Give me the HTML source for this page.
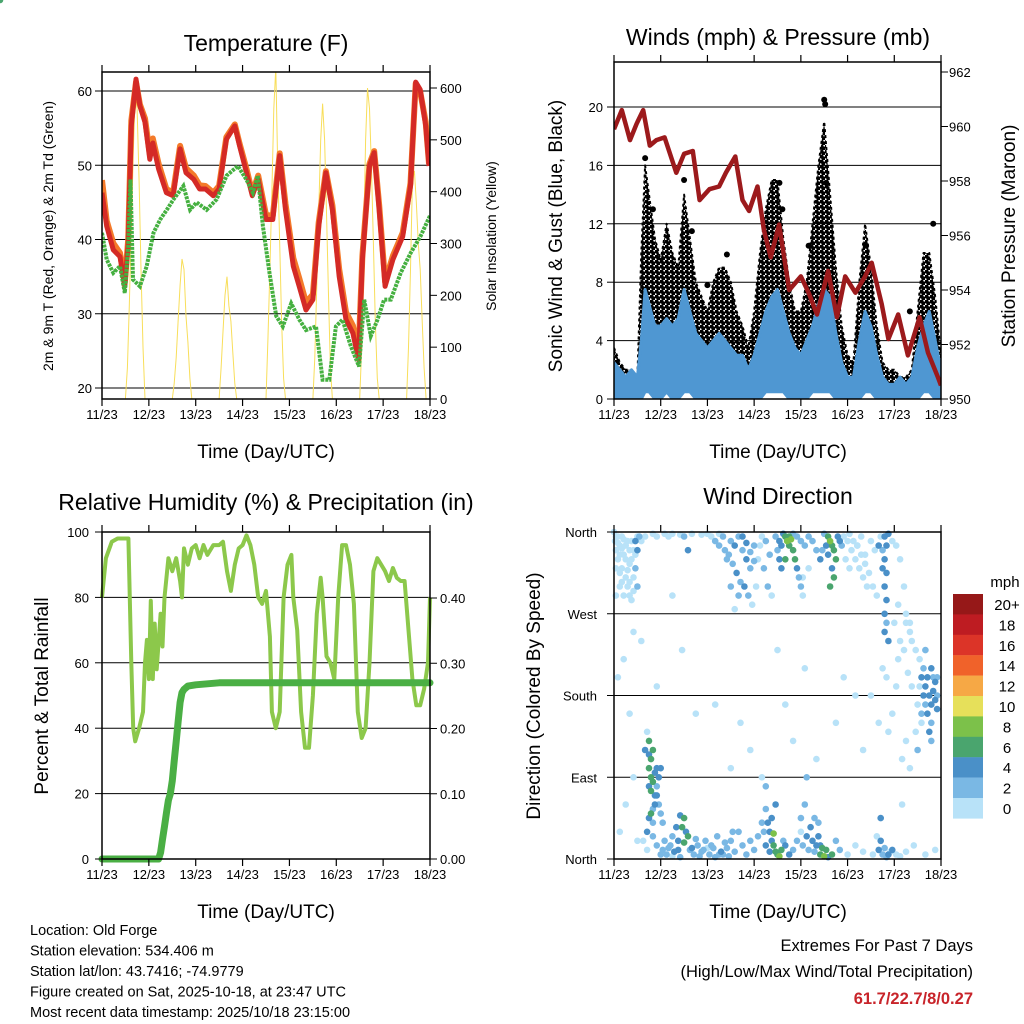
<!DOCTYPE html>
<html><head><meta charset="utf-8">
<style>
body{margin:0;background:#fff;}
svg{display:block;font-family:"Liberation Sans",sans-serif;}
</style></head>
<body>
<svg id="c" width="1024" height="1024" viewBox="0 0 1024 1024">
<defs>
<pattern id="dots" width="5" height="5" patternUnits="userSpaceOnUse">
<circle cx="1.2" cy="1.2" r="2.3" fill="#000"/><circle cx="3.7" cy="3.7" r="2.3" fill="#000"/>
</pattern>
</defs>
<rect width="1024" height="1024" fill="#fff"/>
</svg>
<script>
// ===== Temperature panel data (hours since 11/23 00Z) =====
const tHours=[0,2.4,5.8,9.2,11.7,13.4,15,17.4,19.4,22,24.5,26,29,33,36.4,40,43,47,50,53,57,60,63.7,68,70.5,74,77,80,84,87.5,91,94,98,101,104.5,108,111,114.7,118,121.5,125,128.5,131.4,133.4,137,139.4,142,145,149,154,158,160.7,163,165.8,167.5];
const tRed=[46.3,41.8,38.6,37.7,33.7,39.5,55.3,61.6,58,55.8,50.8,53,49.5,46.3,45.9,52.2,49,48.1,46.8,46.8,45.9,46.8,53.5,55.3,52.6,49,45.9,48.1,42.7,42.7,51.3,44,36.4,33.7,30.5,31.9,41.8,49,44,35,29.2,27.4,23.8,37.3,49.9,51.7,44,33.7,37.3,40.4,47.2,61.2,60.2,55.3,49.9];
const tOrange=[48,42.5,39.5,38.2,34.2,40,56,61.2,58.2,56.3,51.5,53.6,50.2,46.8,46.3,52.6,49.6,48.6,47.3,47.2,46.3,47.2,53.8,55.5,52.9,49.5,46.3,48.6,43.3,43.2,51.6,44.8,37.5,34.8,31.5,32.6,42.3,49.2,44.6,36,30.2,28.4,24.6,37.8,50.2,51.9,44.6,34.3,37.8,40.9,47.6,61,59.9,55.8,50.2];
const dHours=[0,2.4,5.8,9.2,11.7,13.4,14.6,15.9,19.4,22.9,26.4,29.8,33.2,36.6,41.7,45.1,48.5,53.6,58.7,63.8,69.6,73.9,77.3,79.8,82.4,85.8,89.2,92.6,96.9,101.1,104.5,109.6,113,116.4,119.8,123.2,127.5,131.7,134.3,137.7,141.1,144.5,147.9,153,158.1,163.1,168];
const tDew=[40.9,37.3,35.5,36.4,32.8,39.1,48.1,34.6,33.7,36.4,40.9,42.7,44,45.4,47.2,44,45,44,45.4,48.6,49.9,48.1,46.3,48.6,41.8,35.5,29.7,28.3,31.4,29.2,27.8,28.3,21.1,21.1,28.3,29.2,25.6,22.9,31.9,27,29.2,31.9,31.9,35.5,38.2,40.4,43.2];
const sHours=[0,12,13,14,15,16,17,18,19,20,21,22,36,37,38,39,40,41,42,43,44,45,46,60,61,62,63,64,65,66,67,68,69,84,85,86,87,88,89,90,91,92,93,94,108,109,110,111,112,113,114,115,116,117,118,132,133,134,135,136,137,138,139,140,141,142,156,157,158,159,160,161,162,163,164,165,166,168];
const solar=[0,0,60,180,330,470,590,560,420,250,100,0,0,30,80,150,220,270,250,160,110,40,0,0,60,130,200,236,180,150,90,30,0,0,120,250,400,560,640,450,300,150,40,0,0,80,220,360,500,570,500,360,200,60,0,0,100,300,500,600,560,450,300,150,40,0,0,100,250,420,440,380,300,250,150,60,0,0];
const tTicks=[20,30,40,50,60];
const sTicks=[0,100,200,300,400,500,600];
const dayLabels=["11/23","12/23","13/23","14/23","15/23","16/23","17/23","18/23"];
// ===== Wind panel data =====
const pHours=[0,4,8.2,11.6,15,18.4,21.8,26,32,36,40.5,44,49,54,57.5,62.3,66,69.4,73.7,77,80.5,84.8,90,96,100,104.3,110,114.5,118.8,124,129,132.4,137.5,141,146,151,157,161.3,166.4,168];
const pressure=[959.9,960.6,959.5,960.1,960.6,959.3,959.5,959.6,958.3,959,959.1,957.3,957.7,957.8,958.3,958.9,957.3,956.9,957.8,956.2,955.2,956.4,954,954.5,953.9,953.1,954.7,953,954.5,953.9,954.5,955,953.5,952.2,953.1,951.6,953,951.7,950.8,950.5];
const wHours=[0,3,6,9,12,14,16,18,21,24,27,30,33,36,39,42,45,48,51,54,57,60,63,66,69,72,75,78,81,84,87,90,93,96,99,102,105,108,111,114,117,120,123,126,129,132,135,138,141,144,147,150,153,156,159,162,165,168];
const windLow=[0,0,0,0,0,0,0.5,0.5,0,0,0.5,0,0,0.5,0.5,0,0,0,0,0,0,0,0,0,0,0,0,0.5,0.5,0.5,0.5,0,0,0,0,0.5,0.5,0.5,0.5,0,0,0,0,0,0.5,0.5,0,0,0,0,0,0,0,0,0.5,0.5,0,0];
const windHigh=[2.5,2,1.5,2,1.5,4,7.5,6.5,5,5,5.5,5,5.5,7.5,6,4.5,4,3.5,4,4.5,4,3.5,3,3,2,3,4.5,6,7,7.5,6,4.5,3.5,3,4,5,6.5,7.5,7,4.5,2.5,1.5,1.5,4,6,5,3,1.5,1,1,1.5,1,1.5,3.5,5,6,4,2];
const gustHigh=[3.5,2.5,2,2,1.5,10,16,14,11,9.5,12,10,9,14,11,8,7,6,8,9,9,8,6,5,3.5,6,10,13,15,15,11,8,6,6,8,12,16,19,14,9,5,3,2.5,8,12,9,5,2.5,2,2,1.5,1.5,2,6,10,10,7,3];
const gustOutHours=[16,36,85,86.5,108,108.5,109,129.5,164,58,48,20,40,100,152];
const gustOutVals=[16.5,15,14.8,13,20.5,20.2,14.8,10.5,12,9.9,7.8,13,11.5,10.5,6];
const wTicks=[0,4,8,12,16,20];
const pTicks=[950,952,954,956,958,960,962];
// ===== RH / precip data =====
const rhHours=[0,2,5,8,12,13.5,15,16,17,19,21,22,23,24,25,26,27,28,30,31,32,34,36,38,40,41,42,44,46,48,50,52,54,57,60,62,64,66,68,70,72,74,76,78,80,82,84,86,87,89,91,93,95,97,98,100,102,104,106,108,110,112,113,115,117,119,121,123,125,127,129,131,133,135,137,139,141,143,145,147,149,151,153,155,157,159,161,163,165,167,168];
const rh=[80,92,97,98,98,98,60,40,36,40,45,60,67,55,79,55,72,58,75,65,80,92,88,92,85,80,95,90,95,96,92,96,93,96,96,97,88,82,90,95,96,99,96,90,80,78,82,68,45,40,45,80,90,93,80,70,45,34,34,50,75,86,80,62,60,55,80,96,96,90,78,45,37,40,60,88,92,90,88,85,89,86,85,85,70,55,47,47,52,60,80];
const prHours=[0,29,30,31,32,33,34,35,36,37,38,39,40,41,42,44,48,60,168];
const precip=[0,0,0.01,0.03,0.05,0.07,0.09,0.1,0.12,0.15,0.18,0.21,0.24,0.255,0.26,0.265,0.267,0.27,0.27];
const rhTicks=[0,20,40,60,80,100];
const prTicks=["0.00","0.10","0.20","0.30","0.40"];
// ===== Wind direction data =====
const dirHoursA=[0.5,1,2,3,4,5,6,7,8,9,10,11,12,3,1,5,7,13,2,4,8,9,11,12,
60,62,64,66,68,70,72,58,60,67,69,71,74,76,78,80,56,54,50,48,45,40,38,
88,89,90,91,92,93,87,86,94,95,96,97,85,84,
110,111,112,113,114,112,113,111,110,109,115,116,108,107,
120,122,124,126,128,130,121,125,119,127,129,132,134,
139,140,139,140,139,140,139,140,139,141,138,
158,160,162,163,164,165,161,163,162,164,159,157,155,153,160,166,166,150,152,156,158,155,150,148,152,
18,18,19,18,19,20,18,19,21,22,23,22,21,19,18,20,23,24,25,
25,27,29,31,33,35,36,37,38,39,41,43,45,47,49,51,53,55,57,59,61,30,34,44,48,52,56,
79,80,81,82,83,84,85,86,82,78,78,
100,102,104,106,107,108,109,110,98,99,103,96,105,
136,137,137,138,140,142,145,
2,5,8,10,14,22,30,35,42,52,60,65,70,76,84,88,92,98,104,114,118,124,128,132,136,138,144,146,148,3,6,10,12];
const dirDegsA=[350,340,330,345,320,335,310,300,325,350,340,350,340,300,290,290,350,355,355,355,305,285,320,300,
350,345,355,340,330,320,345,330,300,300,290,280,330,355,350,335,355,358,355,358,357,358,340,
355,350,345,352,340,330,358,345,320,310,300,290,330,340,
355,350,345,340,330,320,310,300,335,345,355,350,358,340,
350,340,330,320,310,300,320,345,330,355,335,350,340,
355,345,330,315,300,285,270,260,250,240,340,
200,190,180,170,185,175,160,150,140,200,210,220,230,240,230,180,200,260,250,170,150,140,130,110,100,
130,115,110,100,90,85,80,75,70,100,90,80,60,50,45,40,60,50,40,
10,5,15,8,20,35,45,30,25,10,5,15,8,20,5,12,25,8,18,3,30,3,2,3,12,2,5,
40,30,20,15,8,5,3,10,28,55,80,
10,20,15,5,12,3,10,2,60,90,45,30,40,
10,20,45,5,2,8,5,
200,220,160,250,240,190,290,230,160,170,100,150,120,90,230,170,130,210,110,150,200,180,120,180,150,210,260,220,60,30,60,90,20];
const dirSpeedsA=[1,1,1,1,1,1,1,1,1,1,1,4,4,1,1,1,1,2,1,1,1,1,2,2,
3,4,2,3,4,3,2,2,2,4,2,1,1,1,2,2,2,1,1,1,1,1,4,
6,8,6,8,6,6,4,4,4,2,2,1,4,3,
6,8,6,6,6,4,6,6,4,4,4,4,3,3,
1,1,1,1,1,1,1,1,1,1,1,1,1,
4,4,4,4,4,4,4,3,4,4,3,
4,4,4,4,4,4,4,3,4,3,2,1,1,1,2,3,2,1,1,1,1,1,1,1,1,
6,4,6,6,6,6,4,6,4,4,4,3,4,6,4,3,3,2,2,
2,3,3,4,4,6,6,4,6,3,2,2,2,2,2,3,2,4,2,2,2,1,2,2,1,2,2,
4,4,4,6,6,6,8,6,8,2,2,
2,4,4,6,6,8,6,4,2,2,2,1,3,
4,4,4,3,2,1,1,
1,1,1,1,1,1,1,1,1,1,1,1,1,1,1,1,1,1,1,1,1,1,1,1,1,1,1,1,1,1,1,1,1];
const dirHoursB=[0,1,2,3,4,5,6,7,8,9,10,11,12,6,4,10,1,3,8,14,16,20,22,26,28,30,34,36,
52,54,57,59,61,63,65,66,68,70,72,73,64,62,75,77,79,81,83,85,86,88,90,92,94,96,98,100,102,104,106,100,97,118,117,121,123,125,127,129,131,133,135,137,136,138,141,143,145,147,149,146,150,152,
15,17,20,22,24,26,28,30,32,33,34,36,40,42,46,50,54,58,60,62,64,66,68,70,72,74,76,77,78,80,81,83,87,88,90,92,94,96,97,99,101,103,105,106,112,114,116,120,124,128,133,135,139,141,143,147,150,154,160,165,
157,159,161,163,165,166,160,158,163,156,153,151,149,147,145,143,141,140,17,16,20,21,22,24,20,17];
const dirDegsB=[360,355,348,335,342,352,330,318,340,330,310,335,355,345,305,295,320,315,290,350,355,358,355,358,355,358,357,355,
350,345,340,335,325,315,305,355,348,338,328,300,290,275,345,320,300,290,355,350,320,330,355,358,355,350,345,355,350,340,330,320,310,355,345,358,350,345,335,325,315,300,290,355,345,320,358,350,345,330,300,280,270,260,
20,10,25,15,5,20,12,25,35,10,48,18,12,22,10,15,5,12,20,8,30,15,5,20,10,25,40,30,15,8,45,60,20,15,5,10,20,45,15,25,35,8,25,15,5,20,10,5,15,8,5,25,12,5,10,3,8,15,5,10,
190,180,200,210,195,165,170,160,130,120,190,205,230,240,190,160,140,200,140,120,120,95,70,100,55,30];
const dirSpeedsB=[1,1,1,1,1,1,1,1,1,1,1,1,1,1,1,1,1,1,1,1,1,1,1,1,1,1,1,2,
2,2,2,3,3,4,3,4,4,2,2,1,2,1,1,2,2,1,2,4,4,6,6,2,2,2,2,2,2,2,4,1,1,1,2,1,1,1,1,1,1,1,1,1,4,4,4,1,1,1,1,1,1,1,1,
1,2,2,3,2,2,3,4,4,4,6,4,3,2,2,2,3,2,2,2,2,2,2,2,2,2,3,4,4,4,4,3,4,4,3,2,2,3,4,4,2,4,4,6,2,2,1,1,1,1,1,3,4,4,1,1,1,1,1,1,
4,4,4,4,4,3,3,2,3,1,1,1,1,1,1,1,1,1,4,6,4,4,4,2,4,6];
const dirHours=dirHoursA.concat(dirHoursB);
const dirDegs=dirDegsA.concat(dirDegsB);
const dirSpeeds=dirSpeedsA.concat(dirSpeedsB);
const legendLabels=["20+","18","16","14","12","10","8","6","4","2","0"];
const legendColors=["#961818","#be1c22","#dc3428","#f0622a","#f6a845","#e6e05a","#7cc14a","#4aa56e","#4a90c8","#7ab8e4","#b8e2f8"];
const dirLabels=["North","East","South","West","North"];

const NS="http://www.w3.org/2000/svg";
const svg=document.getElementById('c');
function el(tag,attrs,parent){const e=document.createElementNS(NS,tag);for(const k in attrs)e.setAttribute(k,attrs[k]);(parent||svg).appendChild(e);return e;}
function txt(s,x,y,size,anchor,parent,extra){const t=el('text',Object.assign({x:x,y:y,'font-size':size,'text-anchor':anchor||'middle',fill:'#000'},extra||{}),parent);t.textContent=s;return t;}
function lin(d0,d1,r0,r1){return v=>r0+(v-d0)/(d1-d0)*(r1-r0);}
function pathFrom(xs,ys,fx,fy){let d='';for(let i=0;i<xs.length;i++)d+=(i?'L':'M')+fx(xs[i]).toFixed(1)+','+fy(ys[i]).toFixed(1);return d;}

function frame(g,L,T,R,B,name){
  const r=el('rect',{x:L,y:T,width:R-L,height:B-T,fill:'none',stroke:'#000','stroke-width':1.5},g);
  
  
}
function xAxis(g,L,R,T,B,fx){
  for(let i=0;i<dayLabels.length;i++){
    const x=fx(i*24);
    el('line',{x1:x,y1:B,x2:x,y2:B+7,stroke:'#000','stroke-width':1.2},g);
    el('line',{x1:x,y1:T,x2:x,y2:T-7,stroke:'#000','stroke-width':1.2},g);
    const t=txt(dayLabels[i],x,B+20,13,'middle',g);
    
    
  }
}

// ---------- Panel 1: Temperature ----------
(function(){
  const g=el('g',{});
  
  
  const L=102,R=430,T=72,B=399;
  const fx=lin(0,168,L,R), fy=lin(20,60,388,91), fs=lin(0,600,399,88);
  const clip=el('clipPath',{id:'cp1'},g);el('rect',{x:L,y:T,width:R-L,height:B-T},clip);
  for(const v of tTicks){const gl=el('line',{x1:L,y1:fy(v),x2:R,y2:fy(v),stroke:'#000','stroke-width':1},g);}
  const pg=el('g',{'clip-path':'url(#cp1)'},g);
  const s=el('path',{d:pathFrom(sHours,solar,fx,fs),fill:'none',stroke:'#f8de5a','stroke-width':1},pg);
  
  
  const o=el('path',{d:pathFrom(tHours,tOrange,fx,fy),fill:'none',stroke:'#f47a2a','stroke-width':6,'stroke-linejoin':'round'},pg);
  
  
  const r=el('path',{d:pathFrom(tHours,tRed,fx,fy),fill:'none',stroke:'#d42a26','stroke-width':5,'stroke-linejoin':'round'},pg);
  
  
  const gr=el('path',{d:pathFrom(dHours,tDew,fx,fy),fill:'none',stroke:'#45b040','stroke-width':4,'stroke-dasharray':'3 1'},pg);
  
  
  frame(g,L,T,R,B,'temperature-plot-frame');
  for(const v of tTicks){el('line',{x1:L,y1:fy(v),x2:L-7,y2:fy(v),stroke:'#000'},g);const t=txt(String(v),L-10,fy(v)+5,13,'end',g);}
  for(const v of sTicks){el('line',{x1:R,y1:fs(v),x2:R+7,y2:fs(v),stroke:'#000'},g);const t=txt(String(v),R+10,fs(v)+5,13,'start',g);}
  xAxis(g,L,R,T,B,fx);
  const ti=txt('Temperature (F)',266,51,23,'middle',g);
  const xl=txt('Time (Day/UTC)',266,458,19,'middle',g);
  const yl=txt('2m & 9m T (Red, Orange) & 2m Td (Green)',0,0,14,'middle',g,{transform:'translate(53,236) rotate(-90)'});
  const yr=txt('Solar Insolation (Yellow)',0,0,14,'middle',g,{transform:'translate(496,236) rotate(-90)'});
})();

// ---------- Panel 2: Winds ----------
(function(){
  const g=el('g',{});
  
  
  const L=614,R=941,T=62,B=399;
  const fx=lin(0,168,L,R), fy=lin(0,20,399,107), fp=lin(950,962,399,72);
  const clip=el('clipPath',{id:'cp2'},g);el('rect',{x:L,y:T,width:R-L,height:B-T},clip);
  for(const v of wTicks.slice(1)){const gl=el('line',{x1:L,y1:fy(v),x2:R,y2:fy(v),stroke:'#000','stroke-width':1},g);}
  const pg=el('g',{'clip-path':'url(#cp2)'},g);
  let d='';for(let i=0;i<wHours.length;i++)d+=(i?'L':'M')+fx(wHours[i]).toFixed(1)+','+fy(gustHigh[i]).toFixed(1);
  for(let i=wHours.length-1;i>=0;i--)d+='L'+fx(wHours[i]).toFixed(1)+','+fy(windLow[i]).toFixed(1);
  const gp=el('path',{d:d+'Z',fill:'url(#dots)',stroke:'#000','stroke-width':2,'stroke-dasharray':'3 3','stroke-linejoin':'round'},pg);
  
  
  for(let i=0;i<gustOutHours.length;i++){
    const c=el('circle',{cx:fx(gustOutHours[i]),cy:fy(gustOutVals[i]),r:3,fill:'#000'},pg);
    
    
  }
  let d2='';for(let i=0;i<wHours.length;i++)d2+=(i?'L':'M')+fx(wHours[i]).toFixed(1)+','+fy(windHigh[i]).toFixed(1);
  for(let i=wHours.length-1;i>=0;i--)d2+='L'+fx(wHours[i]).toFixed(1)+','+fy(windLow[i]).toFixed(1);
  const bp=el('path',{d:d2+'Z',fill:'#4f97d2',stroke:'#4f97d2','stroke-width':3,'stroke-linejoin':'round'},pg);
  
  
  const pl=el('path',{d:pathFrom(pHours,pressure,fx,fp),fill:'none',stroke:'#9c1a1c','stroke-width':4.5,'stroke-linejoin':'round'},pg);
  
  
  frame(g,L,T,R,B,'winds-plot-frame');
  for(const v of wTicks){el('line',{x1:L,y1:fy(v),x2:L-7,y2:fy(v),stroke:'#000'},g);const t=txt(String(v),L-11,fy(v)+5,13,'end',g);}
  for(const v of pTicks){el('line',{x1:R,y1:fp(v),x2:R+7,y2:fp(v),stroke:'#000'},g);const t=txt(String(v),R+8,fp(v)+5,13,'start',g);}
  xAxis(g,L,R,T,B,fx);
  const ti=txt('Winds (mph) & Pressure (mb)',778,45,23,'middle',g);
  const xl=txt('Time (Day/UTC)',778,458,19,'middle',g);
  const yl=txt('Sonic Wind & Gust (Blue, Black)',0,0,19,'middle',g,{transform:'translate(562,236) rotate(-90)'});
  const yr=txt('Station Pressure (Maroon)',0,0,19,'middle',g,{transform:'translate(1015,236) rotate(-90)'});
})();

// ---------- Panel 3: RH & precip ----------
(function(){
  const g=el('g',{});
  
  
  const L=102,R=430,T=532,B=859;
  const fx=lin(0,168,L,R), fy=lin(0,100,859,532), fr=lin(0,0.4,859,598);
  const clip=el('clipPath',{id:'cp3'},g);el('rect',{x:L-4,y:T,width:R-L+8,height:B-T+4},clip);
  for(const v of [20,40,60,80]){const gl=el('line',{x1:L,y1:fy(v),x2:R,y2:fy(v),stroke:'#000','stroke-width':1},g);}
  const pg=el('g',{'clip-path':'url(#cp3)'},g);
  const rl=el('path',{d:pathFrom(rhHours,rh,fx,fy),fill:'none',stroke:'#8cc84b','stroke-width':4,'stroke-linejoin':'round'},pg);
  
  
  const pr=el('path',{d:pathFrom(prHours,precip,fx,fr),fill:'none',stroke:'#4aaf44','stroke-width':7,'stroke-linejoin':'round','stroke-linecap':'round'},pg);
  
  
  frame(g,L,T,R,B,'humidity-plot-frame');
  for(const v of rhTicks){el('line',{x1:L,y1:fy(v),x2:L-7,y2:fy(v),stroke:'#000'},g);const t=txt(String(v),L-13,fy(v)+5,13,'end',g);}
  for(const s of prTicks){const v=parseFloat(s);el('line',{x1:R,y1:fr(v),x2:R+7,y2:fr(v),stroke:'#000'},g);const t=txt(s,R+10,fr(v)+5,13,'start',g);}
  xAxis(g,L,R,T,B,fx);
  const ti=txt('Relative Humidity (%) & Precipitation (in)',266,510,23,'middle',g);
  const xl=txt('Time (Day/UTC)',266,918,19,'middle',g);
  const yl=txt('Percent & Total Rainfall',0,0,19,'middle',g,{transform:'translate(48,696) rotate(-90)'});
})();

// ---------- Panel 4: Wind direction ----------
(function(){
  const g=el('g',{});
  
  
  const L=614,R=941,T=532,B=859;
  const fx=lin(0,168,L,R), fy=lin(0,360,859,532);
  for(const v of [90,180,270]){const gl=el('line',{x1:L,y1:fy(v),x2:R,y2:fy(v),stroke:'#000','stroke-width':1},g);}
  const order=dirSpeeds.map((s,i)=>i).sort((a,b)=>dirSpeeds[a]-dirSpeeds[b]);
  for(const i of order){
    const bin=Math.min(10,Math.floor(dirSpeeds[i]/2));
    const c=el('circle',{cx:fx(dirHours[i]).toFixed(1),cy:fy(dirDegs[i]).toFixed(1),r:3.3,fill:legendColors[10-bin]},g);
    
    
  }
  frame(g,L,T,R,B,'direction-plot-frame');
  for(let k=0;k<dirLabels.length;k++){const v=k*90;el('line',{x1:L,y1:fy(v),x2:L-7,y2:fy(v),stroke:'#000'},g);const t=txt(dirLabels[k],L-17,fy(v)+5,13,'end',g);}
  xAxis(g,L,R,T,B,fx);
  const ti=txt('Wind Direction',778,504,23,'middle',g);
  const xl=txt('Time (Day/UTC)',778,918,19,'middle',g);
  const yl=txt('Direction (Colored By Speed)',0,0,19,'middle',g,{transform:'translate(540,696) rotate(-90)'});
  const lg=el('g',{},g);
  
  
  const mt=txt('mph',1005,587,15,'middle',lg);
  for(let i=0;i<legendLabels.length;i++){
    const y=594+i*20.4;
    const b=el('rect',{x:953,y:y,width:30,height:20.6,fill:legendColors[i]},lg);
    
    
    const t=txt(legendLabels[i],1007,y+16,15,'middle',lg);
    
    
  }
})();

(function(){
  const info=["Location: Old Forge","Station elevation: 534.406 m","Station lat/lon: 43.7416; -74.9779","Figure created on Sat, 2025-10-18, at 23:47 UTC","Most recent data timestamp: 2025/10/18 23:15:00"];
  info.forEach((s,i)=>{const t=el('text',{x:30,y:935+i*20.5,'font-size':14.5,fill:'#000'});t.textContent=s;
    
    
  });
  const ex=[["Extremes For Past 7 Days",951,"#000","normal"],["(High/Low/Max Wind/Total Precipitation)",977,"#000","normal"],["61.7/22.7/8/0.27",1004,"#c8242a","bold"]];
  ex.forEach(e=>{const t=el('text',{x:973,y:e[1],'font-size':16.5,'text-anchor':'end',fill:e[2],'font-weight':e[3]});t.textContent=e[0];
    
    
  });
})();
</script>
</body></html>
